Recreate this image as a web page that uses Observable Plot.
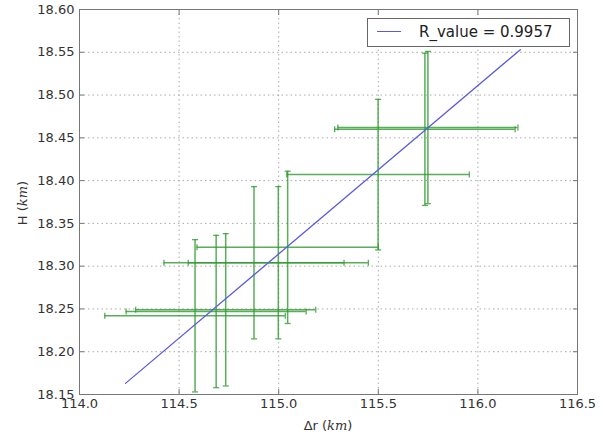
<!DOCTYPE html>
<html>
<head>
<meta charset="utf-8">
<script src="https://cdn.jsdelivr.net/npm/d3@7"></script>
<script src="https://cdn.jsdelivr.net/npm/@observablehq/plot@0.6"></script>
<style>
  html, body { margin: 0; padding: 0; background: #fff; }
  #wrap { position: relative; width: 603px; height: 439px; font-family: "DejaVu Sans", sans-serif; color: #333; }
  #wrap svg { position: absolute; left: 0; top: 0; }
  .lab { position: absolute; font-size: 13px; white-space: nowrap; color: #333; }
  .lab i { font-family: "DejaVu Serif", serif; font-style: italic; }
  #legend { position: absolute; left: 367px; top: 18px; width: 201px; height: 27px; border: 1px solid #666; background: #fff; }
  #legend .sw { position: absolute; left: 9px; top: 12px; width: 24px; height: 0; border-top: 1.3px solid #5a5ae0; }
  #legend .tx { position: absolute; left: 51px; top: 4px; font-size: 15px; color: #222; }
</style>
</head>
<body>
<div id="wrap"></div>
<script>
// Measurements: range distance Δr (km) and height H (km)
const dr   = [114.58, 114.686, 114.734, 114.876, 114.998, 115.045, 115.499, 115.734, 115.749];
const H    = [18.242, 18.247, 18.249, 18.304, 18.304, 18.322, 18.407, 18.460, 18.462];
const drErr = [0.453, 0.452, 0.452, 0.452, 0.452, 0.455, 0.458, 0.453, 0.452];
const hErr  = [0.089, 0.089, 0.089, 0.089, 0.089, 0.089, 0.088, 0.089, 0.089];
// Linear fit line endpoints
const fitX = [114.231, 116.213];
const fitY = [18.163, 18.553];
const legendLabel = "R_value = 0.9957";
// Tick values
const xTicks = [114.0, 114.5, 115.0, 115.5, 116.0, 116.5];
const yTicks = [18.15, 18.20, 18.25, 18.30, 18.35, 18.40, 18.45, 18.50, 18.55, 18.60];

const pts = dr.map((x, i) => ({x, y: H[i], ex: drErr[i], ey: hErr[i]}));
const fit = fitX.map((x, i) => ({x, y: fitY[i]}));

const green = "#2f9a2f";
const hCap = {draw(c, s) { const r = Math.sqrt(s / Math.PI); c.moveTo(-r, 0); c.lineTo(r, 0); }};
const vCap = {draw(c, s) { const r = Math.sqrt(s / Math.PI); c.moveTo(0, -r); c.lineTo(0, r); }};

const chart = Plot.plot({
  width: 603,
  height: 439,
  marginLeft: 79,
  marginRight: 26,
  marginTop: 9,
  marginBottom: 45,
  x: {domain: [114, 116.5]},
  y: {domain: [18.15, 18.6]},
  style: {fontFamily: "DejaVu Sans", fontSize: "13px", color: "#333", background: "transparent"},
  marks: [
    Plot.gridX(xTicks, {stroke: "#aaa", strokeOpacity: 1, strokeDasharray: "1.5,3"}),
    Plot.gridY(yTicks, {stroke: "#aaa", strokeOpacity: 1, strokeDasharray: "1.5,3"}),
    // error bars
    Plot.ruleX(pts, {x: "x", y1: d => d.y - d.ey, y2: d => d.y + d.ey, stroke: green, strokeWidth: 1.5, strokeOpacity: 0.8}),
    Plot.ruleY(pts, {y: "y", x1: d => d.x - d.ex, x2: d => d.x + d.ex, stroke: green, strokeWidth: 1.5, strokeOpacity: 0.8}),
    Plot.dot(pts, {x: "x", y: d => d.y + d.ey, symbol: hCap, r: 3, stroke: green, strokeWidth: 1.3, strokeOpacity: 0.8}),
    Plot.dot(pts, {x: "x", y: d => d.y - d.ey, symbol: hCap, r: 3, stroke: green, strokeWidth: 1.3, strokeOpacity: 0.8}),
    Plot.dot(pts, {x: d => d.x + d.ex, y: "y", symbol: vCap, r: 3, stroke: green, strokeWidth: 1.3, strokeOpacity: 0.8}),
    Plot.dot(pts, {x: d => d.x - d.ex, y: "y", symbol: vCap, r: 3, stroke: green, strokeWidth: 1.3, strokeOpacity: 0.8}),
    // fit line
    Plot.line(fit, {x: "x", y: "y", stroke: "#5a5ae0", strokeWidth: 1.3}),
    Plot.frame({stroke: "#777"}),
    Plot.axisX(xTicks, {anchor: "bottom", tickSize: -5, tickPadding: 9, tickFormat: d3.format(".1f"), label: null, stroke: "#777"}),
    Plot.axisX(xTicks, {anchor: "top", tickSize: -5, tickFormat: () => "", label: null, stroke: "#777"}),
    Plot.axisY(yTicks, {anchor: "left", tickSize: -5, tickPadding: 10, tickFormat: d3.format(".2f"), label: null, stroke: "#777"}),
    Plot.axisY(yTicks, {anchor: "right", tickSize: -5, tickFormat: () => "", label: null, stroke: "#777"})
  ]
});

const wrap = document.getElementById("wrap");
wrap.appendChild(chart);

const xl = document.createElement("div");
xl.className = "lab";
xl.innerHTML = "Δr (<i>km</i>)";
xl.style.left = "328px"; xl.style.top = "418px"; xl.style.transform = "translateX(-50%)";
wrap.appendChild(xl);

const yl = document.createElement("div");
yl.className = "lab";
yl.innerHTML = "H (<i>km</i>)";
yl.style.left = "22px"; yl.style.top = "203px"; yl.style.transform = "translate(-50%,-50%) rotate(-90deg)";
wrap.appendChild(yl);

const lg = document.createElement("div");
lg.id = "legend";
lg.innerHTML = '<div class="sw"></div><div class="tx"></div>';
lg.querySelector(".tx").textContent = legendLabel;
wrap.appendChild(lg);
</script>
</body>
</html>
